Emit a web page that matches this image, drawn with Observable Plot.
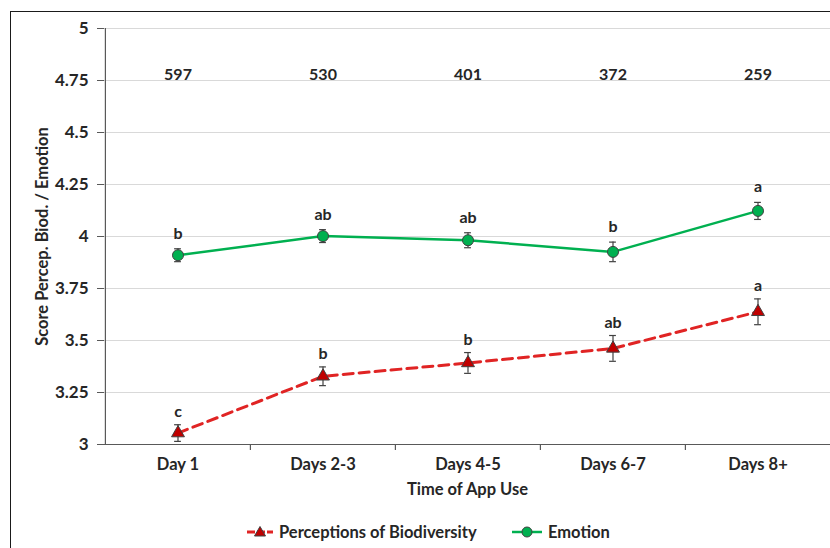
<!DOCTYPE html>
<html>
<head>
<meta charset="utf-8">
<script src="https://cdn.jsdelivr.net/npm/d3@7"></script>
<script src="https://cdn.jsdelivr.net/npm/@observablehq/plot@0.6"></script>
<style>
  html, body { margin: 0; padding: 0; overflow: hidden; background: #fff; }
  #wrap { position: relative; width: 830px; height: 548px; font-family: Lato, "Open Sans", sans-serif; }
  #border { position: absolute; left: 10px; top: 11px; width: 900px; height: 700px; border: 1.5px solid #1a1a1a; box-sizing: border-box; pointer-events: none; }
  #chart { position: absolute; left: 0; top: 0; }
  #legend { position: absolute; left: 0; top: 521px; width: 830px; height: 22px; font-weight: bold; font-size: 16.5px; color: #262626; }
  .item { position: absolute; top: 0; display: flex; align-items: center; height: 22px; }
  .item svg { margin-right: 6px; }
</style>
</head>
<body>
<div id="wrap">
  <div id="chart"></div>
  <div id="border"></div>
  <div id="legend"></div>
</div>
<script>
const categories = ["Day 1", "Days 2-3", "Days 4-5", "Days 6-7", "Days 8+"];
const nCounts = [597, 530, 401, 372, 259];
const emotionMean = [3.910, 4.002, 3.982, 3.926, 4.123];
const emotionErr = [0.031, 0.031, 0.036, 0.047, 0.041];
const emotionLetters = ["b", "ab", "ab", "b", "a"];
const biodivMean = [3.055, 3.328, 3.392, 3.462, 3.638];
const biodivErr = [0.040, 0.045, 0.050, 0.062, 0.062];
const biodivLetters = ["c", "b", "b", "ab", "a"];
const yTicks = [3, 3.25, 3.5, 3.75, 4, 4.25, 4.5, 4.75, 5];
const seriesNames = ["Perceptions of Biodiversity", "Emotion"];
const xTitle = "Time of App Use";
const yTitle = "Score Percep. Biod. / Emotion";

const W = 830, H = 510, ML = 104, MR = 0, MT = 28, MB = 66;
const bw = (W - ML - MR) / categories.length;
const capHalf = 3.5;

const emo = categories.map((c, i) => ({cat: c, m: emotionMean[i], e: emotionErr[i], letter: emotionLetters[i]}));
const bio = categories.map((c, i) => ({cat: c, m: biodivMean[i], e: biodivErr[i], letter: biodivLetters[i]}));
const counts = categories.map((c, i) => ({cat: c, n: nCounts[i]}));

const axisColor = "#595959";
const errColor = "#404040";
const green = "#00b050";
const red = "#e02424";
const redFill = "#c00000";

function errMarks(rows) {
  return [
    Plot.ruleX(rows, {x: "cat", y1: d => d.m - d.e, y2: d => d.m + d.e, stroke: errColor, strokeWidth: 1.2}),
    Plot.tickY(rows, {x: "cat", y: d => d.m + d.e, stroke: errColor, strokeWidth: 1.2, insetLeft: bw / 2 - capHalf, insetRight: bw / 2 - capHalf}),
    Plot.tickY(rows, {x: "cat", y: d => d.m - d.e, stroke: errColor, strokeWidth: 1.2, insetLeft: bw / 2 - capHalf, insetRight: bw / 2 - capHalf})
  ];
}

const chart = Plot.plot({
  width: W, height: H,
  marginLeft: ML, marginRight: MR, marginTop: MT, marginBottom: MB,
  style: {fontFamily: "Lato, 'Open Sans', sans-serif", fontSize: "16px", fontWeight: "bold", color: "#262626", background: "transparent"},
  x: {domain: categories, type: "band", padding: 0},
  y: {domain: [3, 5]},
  marks: [
    Plot.ruleY(yTicks.slice(1), {stroke: "#d9d9d9", strokeWidth: 1.2}),
    Plot.ruleY([3], {stroke: axisColor, strokeWidth: 1.2}),
    Plot.ruleX(categories.slice(0, 1), {x: d => d, y1: 3, y2: 5, dx: -bw / 2, stroke: axisColor, strokeWidth: 1.2}),
    Plot.ruleX(categories.slice(1), {x: d => d, y1: 3, y2: 3, insetBottom: -6, dx: -bw / 2, stroke: axisColor, strokeWidth: 1.2}),
    Plot.axisY(yTicks, {tickSize: 7, tickPadding: 9, tickFormat: d => String(d), stroke: axisColor, label: null, fill: "#262626", fontSize: 17}),
    Plot.axisX({tickSize: 0, tickPadding: 14, label: null, fill: "#262626", fontSize: 16.5}),
    Plot.text([yTitle], {frameAnchor: "left", textAnchor: "middle", rotate: -90, dx: -62, fontSize: 16.5}),
    Plot.text([xTitle], {frameAnchor: "bottom", dy: 50, fontSize: 16.5}),
    Plot.text(counts, {x: "cat", frameAnchor: "top", dy: 40, text: d => String(d.n), fontSize: 16}),
    Plot.line(bio, {x: "cat", y: "m", stroke: red, strokeWidth: 3, strokeDasharray: "10,6"}),
    Plot.line(emo, {x: "cat", y: "m", stroke: green, strokeWidth: 2.5}),
    ...errMarks(bio),
    ...errMarks(emo),
    Plot.dot(bio, {x: "cat", y: "m", symbol: "triangle", r: 4.8, fill: redFill, stroke: errColor, strokeWidth: 1}),
    Plot.dot(emo, {x: "cat", y: "m", r: 5.5, fill: green, stroke: errColor, strokeWidth: 1}),
    Plot.text(bio, {x: "cat", y: d => d.m + d.e, text: "letter", lineAnchor: "bottom", dy: -8, fontSize: 16}),
    Plot.text(emo, {x: "cat", y: d => d.m + d.e, text: "letter", lineAnchor: "bottom", dy: -10, fontSize: 16})
  ]
});
document.getElementById("chart").appendChild(chart);

const legend = document.getElementById("legend");
const items = [
  {name: seriesNames[0], left: 247, sym: `<svg width="26" height="16"><line x1="0" y1="8" x2="26" y2="8" stroke="${red}" stroke-width="3" stroke-dasharray="8,2"/><path d="M13,2.5 L18.5,12 L7.5,12 Z" fill="${redFill}" stroke="${errColor}" stroke-width="1"/></svg>`},
  {name: seriesNames[1], left: 512, sym: `<svg width="30" height="16"><line x1="0" y1="8" x2="30" y2="8" stroke="${green}" stroke-width="2.5"/><circle cx="15" cy="8" r="5" fill="${green}" stroke="${errColor}" stroke-width="1"/></svg>`}
];
items.forEach(it => {
  const d = document.createElement("div");
  d.className = "item";
  d.style.left = it.left + "px";
  d.innerHTML = it.sym + `<span>${it.name}</span>`;
  legend.appendChild(d);
});
</script>
</body>
</html>
